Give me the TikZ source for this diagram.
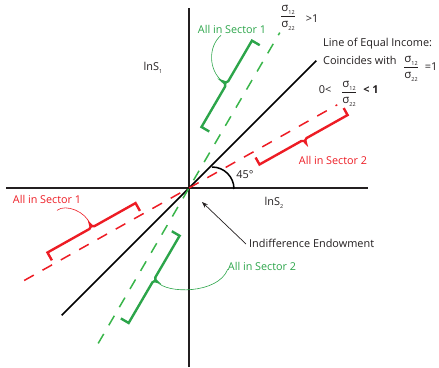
\documentclass[tikz,border=0pt]{standalone}
\usepackage{fontspec}
\setmainfont{Open Sans}
\usetikzlibrary{calc,arrows.meta}
\definecolor{axc}{RGB}{35,31,32}
\definecolor{gc}{RGB}{44,165,74}
\definecolor{gd}{RGB}{57,181,74}
\definecolor{rc}{RGB}{237,28,36}
\newcommand\sub[1]{\raisebox{-0.5ex}{\fontsize{5.5}{5.5}\selectfont #1}}
\newcommand\sfr[2]{$\displaystyle\frac{\mbox{σ\sub{#1}}}{\mbox{σ\sub{#2}}}$}
\begin{document}
\begin{tikzpicture}[x=1pt,y=1pt,
 axis/.style={line width=1.6pt, draw=axc},
 eqline/.style={line width=1.5pt, draw=black},
 gdash/.style={line width=1.5pt, draw=gd, dash pattern=on 11pt off 10pt},
 rdash/.style={line width=1.5pt, draw=rc, dash pattern=on 11pt off 10pt},
 gbr/.style={line width=2.4pt, draw=gc, line join=miter},
 rbr/.style={line width=2.4pt, draw=rc, line join=miter},
 gthin/.style={line width=0.6pt, draw=gc},
 rthin/.style={line width=0.6pt, draw=rc},
 lab/.style={inner sep=0pt, font=\fontsize{10.8}{12}\selectfont},
 blab/.style={inner sep=0pt, font=\fontsize{10.9}{12}\selectfont, text=axc},
 frac/.style={inner sep=0pt, font=\fontsize{11.5}{12}\selectfont, text=axc},
]
\useasboundingbox (0,0) rectangle (439,367);
\coordinate (O) at (189,179);
\coordinate (ytop) at (189,359);
\coordinate (ybot) at (189,0);
\coordinate (xl) at (6,179);
\coordinate (xr) at (368,179);
\coordinate (e1) at ($(O)+(225:180)$);
\coordinate (e2) at ($(O)+(45:180)$);
\coordinate (g1) at ($(O)+(239.7:180)$);
\coordinate (g2) at ($(O)+(59.7:180)$);
\coordinate (r1) at ($(O)+(209.3:189)$);
\coordinate (r2) at ($(O)+(29.3:170)$);

\draw[axis] (ybot) -- (ytop);
\draw[axis] (xl) -- (xr);
\draw[eqline] (e1) -- (e2);
\draw[gdash] (g1) -- (g2);
\draw[rdash] (r1) -- (r2);

% 45 degree arc
\coordinate (a1) at (212,200);
\draw[eqline] (a1) arc[start angle=90,end angle=0,radius=22];

% green brackets
\begin{scope}[shift={(O)},rotate=59.7]
\draw[gbr] (159,11) -- (159,20) -- (112,20) .. controls (110,20) and (109,22) .. (109,25)
  .. controls (109,22) and (108,20) .. (106,20) -- (59,20) -- (59,11);
\coordinate (gt1) at (109,25);
\draw[gbr] (-46,-7) -- (-46,-16) -- (-94,-16) .. controls (-96,-16) and (-97,-18) .. (-97,-20)
  .. controls (-97,-18) and (-98,-16) .. (-100,-16) -- (-147,-16) -- (-147,-7);
\coordinate (gt2) at (-97,-20);
\end{scope}
% red brackets
\begin{scope}[shift={(O)},rotate=29.3]
\draw[rbr] (174,-6) -- (174,-14) -- (127,-14) .. controls (125,-14) and (124,-16) .. (124,-18)
  .. controls (124,-16) and (123,-14) .. (121,-14) -- (73,-14) -- (73,-6);
\draw[rbr] (-54,4) -- (-54,13) -- (-101,13) .. controls (-103,13) and (-104,15) .. (-104,17)
  .. controls (-104,15) and (-105,13) .. (-107,13) -- (-155,13) -- (-155,4);
\coordinate (rt2) at (-104,17);
\end{scope}

% labels
\node[lab, text=gc] (gl1) at (232,338) {All in Sector 1};
\node[lab, text=gc] (gl2) at (262,101) {All in Sector 2};
\node[lab, text=rc] (rl1) at (47,168) {All in Sector 1};
\node[lab, text=rc] (rl2) at (333,207) {All in Sector 2};

\draw[gthin] (gt1) .. controls +(-14,11) and +(-13,-11) .. ($(gl1.south)+(-11,-2)$);
\draw[gthin] (gt2) .. controls +(9,-12) and +(-10,-25) .. ($(gl2.south west)+(0,1)$);
\draw[rthin] (rt2) .. controls +(-4,12) and +(9,7) .. ($(rl1.south)+(10,-7)$);

\node[blab] (s1) at (153,299) {lnS\sub{1}};
\node[blab] (s2) at (274,164) {lnS\sub{2}};
\node[blab] (ang) at (245,192) {45°};

\node[blab, anchor=west] (ie) at (249,124) {Indifference Endowment};
\coordinate (arrtip) at (202,165);
\draw[line width=0.7pt, draw=axc, -{Stealth[length=6pt,width=4.5pt]}] ($(ie.west)+(-3,-1)$) -- (arrtip);

\node[frac] (f1) at (288,349) {\sfr{12}{22}};
\node[blab] (gt) at (312,348) {>1};
\node[blab, anchor=west] (leq) at (323,323) {Line of Equal Income:};
\node[blab, anchor=west] (coin) at (323,307) {Coincides with};
\node[frac] (f2) at (411,298) {\sfr{12}{22}};
\node[blab] (eq1) at (431,300) {=1};
\node[blab] (zl) at (325,277) {0<};
\node[frac] (f3) at (349,273) {\sfr{12}{22}};
\node[blab] (lt1) at (371,277) {\textbf{< 1}};
\end{tikzpicture}
\end{document}
